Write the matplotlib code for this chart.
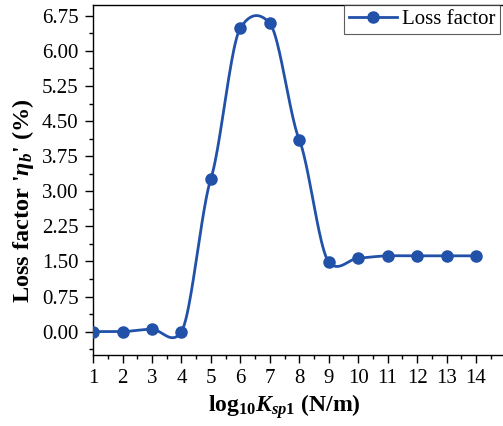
import numpy as np
import matplotlib
matplotlib.use('Agg')
import matplotlib.pyplot as plt
from matplotlib.ticker import MultipleLocator, FormatStrFormatter

plt.rcParams['font.family'] = 'Liberation Serif'
plt.rcParams['mathtext.fontset'] = 'custom'
plt.rcParams['mathtext.rm'] = 'Liberation Serif:bold'
plt.rcParams['mathtext.bf'] = 'Liberation Serif:bold'
plt.rcParams['mathtext.it'] = 'Liberation Serif:italic:bold'

# log10 of spring stiffness and measured loss factor
log_k = [1, 2, 3, 4, 5, 6, 7, 8, 9, 10, 11, 12, 13, 14]
loss_factor = [0.0, 0.0, 0.05, 0.0, 3.27, 6.49, 6.59, 4.10, 1.49, 1.57, 1.62, 1.62, 1.62, 1.62]

line_color = '#2151a8'


def cardinal_spline(x, y, tension=0.4, n=40):
    # smooth connector through the points (cardinal spline, hermite segments)
    x = np.asarray(x, float)
    y = np.asarray(y, float)
    d = np.zeros_like(y)
    d[1:-1] = (1 - tension) * (y[2:] - y[:-2]) / (x[2:] - x[:-2])
    d[0] = (1 - tension) * (y[1] - y[0]) / (x[1] - x[0])
    d[-1] = (1 - tension) * (y[-1] - y[-2]) / (x[-1] - x[-2])
    xs_all, ys_all = [], []
    for i in range(len(x) - 1):
        h = x[i + 1] - x[i]
        t = np.linspace(0, 1, n, endpoint=(i == len(x) - 2))
        h00 = 2 * t**3 - 3 * t**2 + 1
        h10 = t**3 - 2 * t**2 + t
        h01 = -2 * t**3 + 3 * t**2
        h11 = t**3 - t**2
        xs_all.append(x[i] + t * h)
        ys_all.append(h00 * y[i] + h10 * h * d[i] + h01 * y[i + 1] + h11 * h * d[i + 1])
    return np.concatenate(xs_all), np.concatenate(ys_all)


fig = plt.figure(figsize=(5.03, 4.26), dpi=100)
ax = fig.add_axes([0.185, 0.1667, 0.82, 0.8213])

xs, ys = cardinal_spline(log_k, loss_factor)
ax.plot(xs, ys, color=line_color, lw=2.0, zorder=2)
ax.plot(log_k, loss_factor, 'o', color=line_color, ms=8, zorder=3)
# legend proxy: line with marker
ax.plot([], [], '-o', color=line_color, lw=2.0, ms=8, label='Loss factor')

ax.set_xlim(1, 15)
ax.set_ylim(-0.5, 6.98)
ax.set_xticks(range(1, 15))
ax.xaxis.set_minor_locator(MultipleLocator(0.5))
ax.yaxis.set_major_locator(MultipleLocator(0.75))
ax.yaxis.set_minor_locator(MultipleLocator(0.375))
ax.yaxis.set_major_formatter(FormatStrFormatter('%.2f'))

for s in ax.spines.values():
    s.set_linewidth(1.0)
ax.tick_params(which='major', direction='out', length=5.8, width=1.0, labelsize=15, pad=4.5)
ax.tick_params(which='minor', direction='out', length=3.2, width=1.0)

ax.set_xlabel(r"log$_{10}$$\mathit{K_{sp1}}$ (N/m)", fontsize=17, fontweight='bold')
ax.set_ylabel(r"Loss factor '$\mathit{\eta_b}$' (%)", fontsize=17.5, fontweight='bold')
ax.xaxis.set_label_coords(0.463, -0.105)
ax.yaxis.set_label_coords(-0.138, 0.44)

leg = ax.legend(loc='upper right', fontsize=15, frameon=True, fancybox=False,
                borderpad=0.22, handlelength=2.3, handletextpad=0.25,
                bbox_to_anchor=(0.987, 1.0), borderaxespad=0.0)
leg.get_frame().set_edgecolor('#333333')
leg.get_frame().set_linewidth(0.8)

fig.savefig('out.png', dpi=100)
